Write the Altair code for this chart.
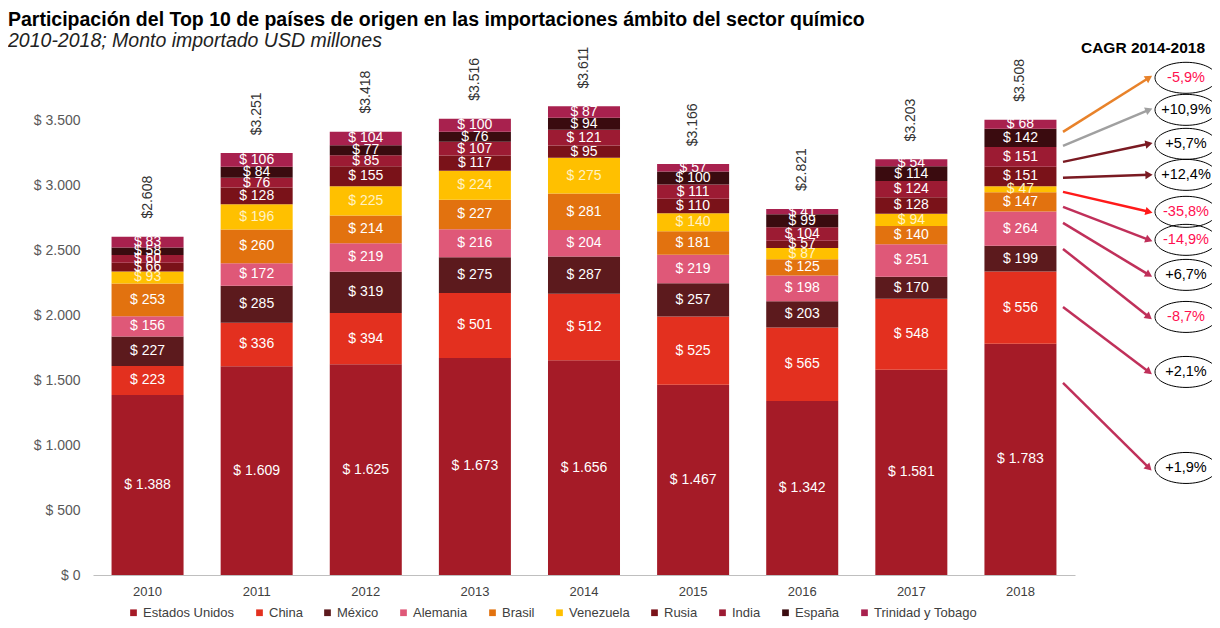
import math
import altair as alt
import pandas as pd

# ---------------- data ----------------
years = ["2010", "2011", "2012", "2013", "2014", "2015", "2016", "2017", "2018"]
series = ["Estados Unidos", "China", "México", "Alemania", "Brasil",
          "Venezuela", "Rusia", "India", "España", "Trinidad y Tobago"]
estados_unidos = [1388, 1609, 1625, 1673, 1656, 1467, 1342, 1581, 1783]
china = [223, 336, 394, 501, 512, 525, 565, 548, 556]
mexico = [227, 285, 319, 275, 287, 257, 203, 170, 199]
alemania = [156, 172, 219, 216, 204, 219, 198, 251, 264]
brasil = [253, 260, 214, 227, 281, 181, 125, 140, 147]
venezuela = [93, 196, 225, 224, 275, 140, 87, 94, 47]
rusia = [66, 128, 155, 117, 95, 110, 57, 128, 151]
india = [60, 76, 85, 107, 121, 111, 104, 124, 151]
espana = [58, 84, 77, 76, 94, 100, 99, 114, 142]
trinidad = [83, 106, 104, 100, 87, 57, 41, 54, 68]
totals = [2608, 3251, 3418, 3516, 3611, 3166, 2821, 3203, 3508]

# CAGR 2014-2018 annotations (same order as series)
cagr_labels = ["+1,9%", "+2,1%", "-8,7%", "+6,7%", "-14,9%",
               "-35,8%", "+12,4%", "+5,7%", "+10,9%", "-5,9%"]
# arrow anchors, in the units of the value axis
arrow_from = [1480, 2066, 2513, 2714, 2837, 2953, 3061, 3184, 3307, 3415]
arrow_to = [825, 1565, 1989, 2313, 2583, 2799, 3084, 3323, 3585, 3832]

# ---------------- styles ----------------
bar_colors = ["#A51B27", "#E3301F", "#5C1A1D", "#DF5878", "#E2720F",
              "#FFC000", "#7A1219", "#9C1B33", "#3A0B0F", "#A8214E"]
arrow_colors = ["#C0305A", "#C0305A", "#C0305A", "#C0305A", "#C0305A",
                "#FF1A1A", "#7A1A22", "#7A1A22", "#A0A0A0", "#E8822A"]
FONT = "Liberation Sans, Arial, sans-serif"

W, H = 982, 519
YMAX = 4000

values = [estados_unidos, china, mexico, alemania, brasil,
          venezuela, rusia, india, espana, trinidad]
rows = []
for si, (name, vals) in enumerate(zip(series, values)):
    for yi, yr in enumerate(years):
        rows.append({"year": yr, "country": name, "idx": si, "value": vals[yi]})
df = pd.DataFrame(rows)

df_tot = pd.DataFrame({"year": years, "total": totals})

X0, X1 = 970, 1056  # arrow start/end in plot pixels
k = H / YMAX
angles = []
for a, b in zip(arrow_from, arrow_to):
    ang = math.degrees(math.atan2((a - b) * k, X1 - X0))
    angles.append(ang % 360)
df_cagr = pd.DataFrame({
    "country": series,
    "label": cagr_labels,
    "y_from": arrow_from,
    "y_to": arrow_to,
    "arrow_color": arrow_colors,
    "text_color": ["#FF1050" if l.startswith("-") else "#000000" for l in cagr_labels],
    "ang": angles,
})

y_scale = alt.Scale(domain=[0, YMAX], nice=False, zero=True)
x_enc = alt.X(
    "year:N", sort=years,
    scale=alt.Scale(paddingInner=0.34, paddingOuter=0.17),
    axis=alt.Axis(title=None, ticks=False, domain=True, domainColor="#BFBFBF",
                  labelAngle=0, labelPadding=10, labelFontSize=13,
                  labelColor="#404040", labelFont=FONT),
)

stacked = alt.Chart(df).transform_stack(
    stack="value", groupby=["year"], as_=["v0", "v1"],
    sort=[alt.SortField("idx", order="ascending")],
).transform_calculate(
    mid="(datum.v0 + datum.v1) / 2",
    label="'$ ' + replace(format(datum.value, ','), ',', '.')",
)

bars = stacked.mark_bar().encode(
    x=x_enc,
    y=alt.Y("v0:Q", scale=y_scale,
            axis=alt.Axis(title=None, ticks=False, domain=False, grid=False,
                          values=[0, 500, 1000, 1500, 2000, 2500, 3000, 3500],
                          labelExpr="'$ ' + replace(format(datum.value, ','), ',', '.')",
                          labelPadding=13, labelFontSize=14, labelColor="#595959",
                          labelFont=FONT)),
    y2="v1:Q",
    color=alt.Color("country:N", scale=alt.Scale(domain=series, range=bar_colors),
                    legend=alt.Legend(title=None, orient="none", legendX=34, legendY=550,
                                      direction="horizontal", columns=10,
                                      symbolType="square", symbolSize=45,
                                      symbolStrokeWidth=0, labelFont=FONT,
                                      labelFontSize=13, labelColor="#404040",
                                      labelOffset=3, columnPadding=18)),
)

seg_labels = stacked.mark_text(fontSize=14, font=FONT, baseline="middle").encode(
    x=alt.X("year:N", sort=years),
    y=alt.Y("mid:Q", scale=y_scale),
    text="label:N",
    color=alt.condition("datum.country === 'Venezuela'",
                        alt.value("#FFF2C4"), alt.value("#FFFFFF")),
)

tot_labels = alt.Chart(df_tot).transform_calculate(
    label="'$' + replace(format(datum.total, ','), ',', '.')"
).mark_text(angle=270, align="left", baseline="middle", dx=18,
            fontSize=14, font=FONT, color="#333333").encode(
    x=alt.X("year:N", sort=years),
    y=alt.Y("total:Q", scale=y_scale),
    text="label:N",
)

base_c = alt.Chart(df_cagr)
rules = base_c.mark_rule(strokeWidth=2.5).encode(
    x=alt.value(X0), x2=alt.value(X1),
    y=alt.Y("y_from:Q", scale=y_scale), y2="y_to:Q",
    stroke=alt.Stroke("arrow_color:N", scale=None),
)
heads = base_c.mark_point(shape="triangle-right", filled=True, size=70, opacity=1).encode(
    x=alt.value(X1),
    y=alt.Y("y_to:Q", scale=y_scale),
    angle=alt.Angle("ang:Q", scale=None),
    fill=alt.Fill("arrow_color:N", scale=None),
)
ellipses = base_c.mark_point(
    shape="M -1 0 A 1 0.5 0 1 1 1 0 A 1 0.5 0 1 1 -1 0 Z",
    size=62 * 62, filled=False, stroke="#000000", strokeWidth=1, opacity=1,
).encode(
    x=alt.value(1093),
    y=alt.Y("y_to:Q", scale=y_scale),
)
cagr_text = base_c.mark_text(fontSize=14.5, font=FONT, baseline="middle").encode(
    x=alt.value(1093),
    y=alt.Y("y_to:Q", scale=y_scale),
    text="label:N",
    fill=alt.Fill("text_color:N", scale=None),
)
header = alt.Chart(pd.DataFrame({"t": ["CAGR 2014-2018"]})).mark_text(
    fontSize=15.5, font=FONT, fontWeight="bold", color="#000000", baseline="middle"
).encode(x=alt.value(1050), y=alt.value(-8), text="t:N")

chart = alt.layer(
    bars, seg_labels, tot_labels, rules, heads, ellipses, cagr_text, header
).resolve_scale(fill="independent", stroke="independent").properties(
    width=W, height=H,
    autosize=alt.AutoSizeParams(type="none"),
    padding={"left": 85, "top": 48, "right": 137, "bottom": 45},
    title=alt.TitleParams(
        text="Participación del Top 10 de países de origen en las importaciones ámbito del sector químico",
        subtitle="2010-2018; Monto importado USD millones",
        anchor="start", frame="group", dx=-85, dy=18, offset=8,
        font=FONT, fontSize=19.5, fontWeight="bold", color="#000000",
        subtitleFont=FONT, subtitleFontSize=19.5, subtitleFontStyle="italic",
        subtitleColor="#222222", subtitlePadding=1,
    ),
).configure(
    font=FONT, background="#FFFFFF"
).configure_view(strokeWidth=0, stroke="transparent")

chart.save("out.html", embed_options={"renderer": "svg", "actions": False})
